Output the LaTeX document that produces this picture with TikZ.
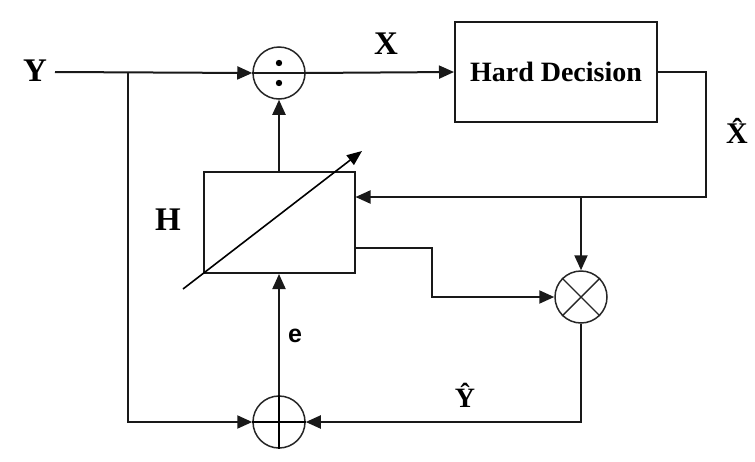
\documentclass[tikz,border=0pt]{standalone}
\usepackage{fontspec}
\setmainfont{Liberation Serif}
\newfontfamily\sansf{Liberation Sans}
\usetikzlibrary{arrows.meta}
\begin{document}
\begin{tikzpicture}[x=1pt,y=-1pt,
  wire/.style={line width=2pt,draw=black!90},
  arr/.style={wire,-{Triangle[length=15pt,width=13pt]}},
  blockbox/.style={draw=black!90,line width=2pt,inner sep=0pt,rectangle},
  junc/.style={draw=black!85,line width=1.5pt,circle,minimum size=52pt,inner sep=0pt},
  lab/.style={font=\fontsize{33}{35}\selectfont\bfseries,inner sep=0pt}
]
\useasboundingbox (0,0) rectangle (755,461);
\fill[white] (0,0) rectangle (755,461);

% blocks
\node[blockbox,minimum width=202pt,minimum height=100pt,font=\fontsize{28}{30}\selectfont\bfseries] (hd) at (556,72) {Hard Decision};
\node[blockbox,minimum width=151pt,minimum height=101pt] (H) at (279,222.5) {};
\node[junc] (div) at (279,73) {};
\node[junc] (mul) at (581,297) {};
\node[junc] (add) at (279,422) {};

% symbols in junctions
\draw[wire] (div.west) -- (div.east);
\fill (279,63) circle (3.2pt);
\fill (279,83) circle (3.2pt);
\draw[line width=1.4pt,draw=black!85] (mul.north west) -- (mul.south east);
\draw[line width=1.4pt,draw=black!85] (mul.north east) -- (mul.south west);
\draw[line width=1.5pt] (add.north) -- (add.south);
\draw[line width=1.5pt] (add.west) -- (add.east);

% labels
\node[lab] (ylab) at (35,71) {Y};
\node[lab] (xlab) at (386,44) {X};
\node[lab] (hlab) at (168,220) {H};
\node[inner sep=0pt,font=\sansf\fontsize{25}{27}\selectfont\bfseries] (elab) at (295,336) {e};
\node[lab,font=\fontsize{30}{32}\selectfont\bfseries] (xhat) at (737,131) {\^{X}};
\node[lab,font=\fontsize{28}{30}\selectfont\bfseries] (yhat) at (465,395) {\^{Y}};

% coordinates
\coordinate (yin) at (55,72);
\coordinate (br) at (128,72);
\coordinate (c1) at (706,197);
\coordinate (c2) at (432,248);

% connectors
\draw[arr] (yin) -- (div.west);
\draw[arr] (div.east) -- (hd.west);
\draw[arr] (br) |- (add.west);
\draw[arr] (H.north) -- (div.south);
\draw[arr] (hd.east) -| (c1) -- (c1 -| H.east);
\draw[arr] (c1 -| mul.north) -- (mul.north);
\draw[arr] (H.east |- c2) -- (c2) |- (mul.west);
\draw[arr] (mul.south) |- (add.east);
\draw[arr] (add.north) -- (H.south);

% adjustable arrow
\coordinate (d1) at (183,289);
\coordinate (d2) at (362,151);
\draw[line width=1.6pt,-{Triangle[length=15pt,width=12pt]}] (d1) -- (d2);
\end{tikzpicture}
\end{document}
